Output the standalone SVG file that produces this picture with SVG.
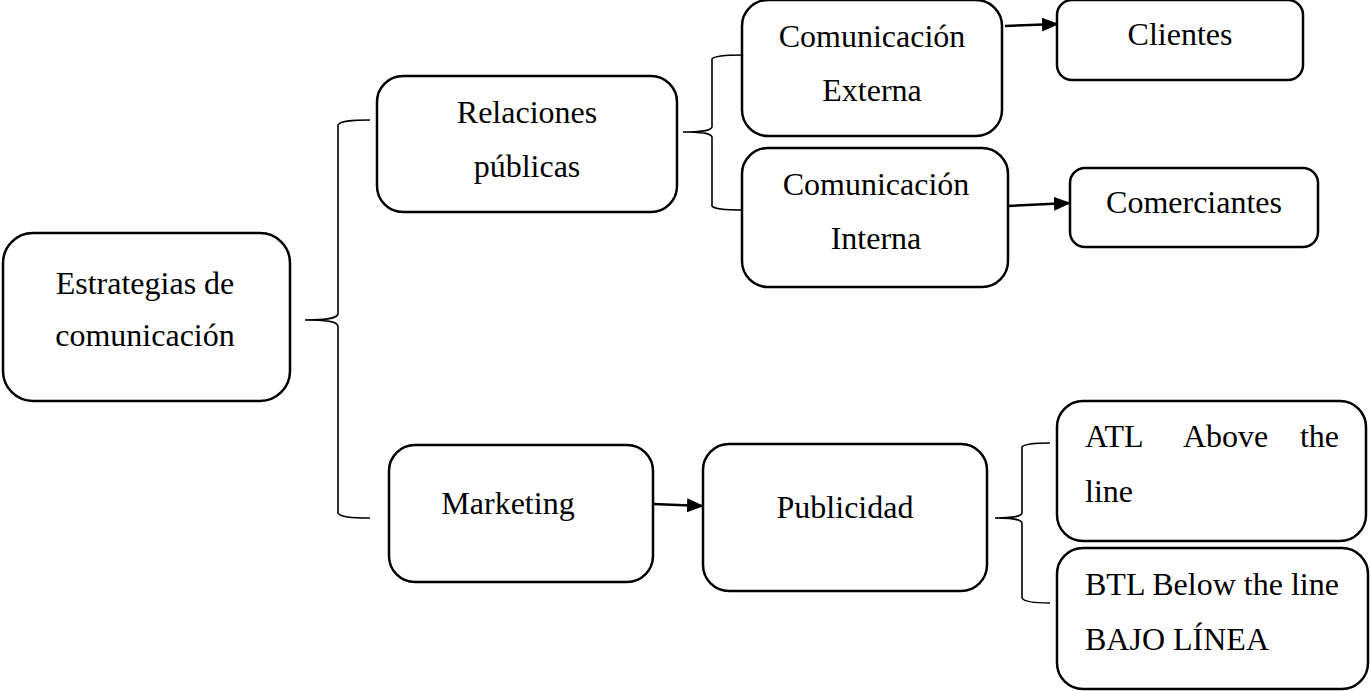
<svg xmlns="http://www.w3.org/2000/svg" width="1370" height="691" viewBox="0 0 1370 691">
<style>
.box{fill:#fff;stroke:#000;stroke-width:2.5}
.t{font-family:"Liberation Serif","Times New Roman",serif;font-size:32px;fill:#000}
.c{text-anchor:middle}
.brace{fill:none;stroke:#000;stroke-width:1.6}
.arr{fill:none;stroke:#000;stroke-width:2.5;marker-end:url(#ah)}
</style>
<defs>
<marker id="ah" markerWidth="17" markerHeight="14" refX="16" refY="7" orient="auto" markerUnits="userSpaceOnUse">
<path d="M0,0 L17,7 L0,14 Z" fill="#000"/>
</marker>
</defs>
<rect width="1370" height="691" fill="#fff"/>
<g id="connectors">
<path class="brace" d="M370,120 C350,120 340,121 338,125 L338,314 C337,318 330,320 305,320 C330,320 337,322 338,326 L338,513 C340,517 350,518 370,518"/>
<path class="brace" d="M742,55 C725,55 714,56 712,59 L712,127 C711,130 706,132 683,132 C706,132 711,134 712,137 L712,206 C714,209 725,210 742,210"/>
<path class="brace" d="M1050,443 C1035,443 1024,444 1022,447 L1022,513 C1021,516 1016,518 995,518 C1016,518 1021,520 1022,523 L1022,598 C1024,602 1035,603 1050,603"/>
<path class="arr" d="M1005,26 L1058,24"/>
<path class="arr" d="M1008,206 L1070,203"/>
<path class="arr" d="M653,504 L703,506"/>
</g>
<g id="estrategias">
<rect class="box" x="3" y="233" width="287" height="168" rx="30"/>
<text class="t c" x="145" y="294">Estrategias de</text>
<text class="t c" x="145" y="346">comunicación</text>
</g>
<g id="relaciones">
<rect class="box" x="377" y="76" width="300" height="136" rx="26"/>
<text class="t c" x="527" y="123">Relaciones</text>
<text class="t c" x="527" y="177">públicas</text>
</g>
<g id="externa">
<rect class="box" x="742" y="0" width="260" height="136" rx="26"/>
<text class="t c" x="872" y="47">Comunicación</text>
<text class="t c" x="872" y="101">Externa</text>
</g>
<g id="clientes">
<rect class="box" x="1057" y="0" width="246" height="80" rx="15"/>
<text class="t c" x="1180" y="45">Clientes</text>
</g>
<g id="interna">
<rect class="box" x="742" y="148" width="266" height="139" rx="26"/>
<text class="t c" x="876" y="195">Comunicación</text>
<text class="t c" x="876" y="249">Interna</text>
</g>
<g id="comerciantes">
<rect class="box" x="1070" y="168" width="248" height="79" rx="15"/>
<text class="t c" x="1194" y="213">Comerciantes</text>
</g>
<g id="marketing">
<rect class="box" x="389" y="445" width="264" height="137" rx="26"/>
<text class="t c" x="508" y="514">Marketing</text>
</g>
<g id="publicidad">
<rect class="box" x="703" y="444" width="284" height="147" rx="26"/>
<text class="t c" x="845" y="518">Publicidad</text>
</g>
<g id="atl">
<rect class="box" x="1057" y="401" width="309" height="140" rx="26"/>
<text class="t" x="1085" y="447">ATL</text>
<text class="t" x="1183" y="447">Above</text>
<text class="t" x="1339" y="447" text-anchor="end">the</text>
<text class="t" x="1085" y="502">line</text>
</g>
<g id="btl">
<rect class="box" x="1057" y="548" width="311" height="141" rx="26"/>
<text class="t" x="1085" y="595">BTL Below the line</text>
<text class="t" x="1085" y="650">BAJO LÍNEA</text>
</g>
</svg>
